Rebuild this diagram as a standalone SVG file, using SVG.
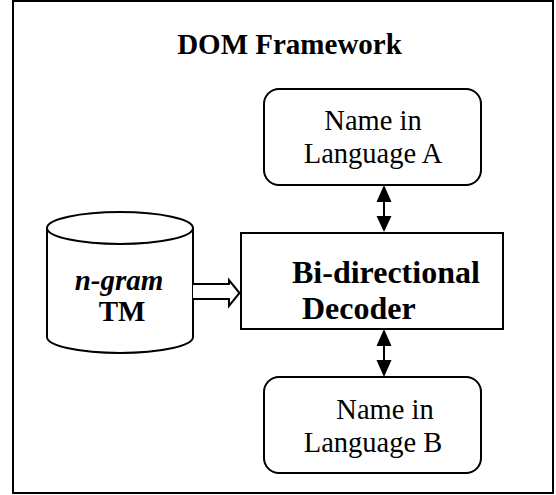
<svg xmlns="http://www.w3.org/2000/svg" width="556" height="495" viewBox="0 0 556 495">
<defs>
<style>
.shape{fill:#fff;stroke:#000;stroke-width:2}
.t{font-family:"Liberation Serif","Times New Roman",serif;fill:#000}
.b{font-weight:bold}
.line{stroke:#000;stroke-width:2;fill:none}
.head{fill:#000;stroke:none}
</style>
</defs>
<rect width="556" height="495" fill="#fff"/>
<g id="frame">
<rect class="shape" x="13" y="1" width="540" height="492"/>
<text class="t b" x="289.5" y="54" font-size="29" text-anchor="middle">DOM Framework</text>
</g>
<g id="nameA">
<rect class="shape" x="264" y="89" width="217" height="96" rx="15" ry="15"/>
<text class="t" x="373" y="130" font-size="28.5" text-anchor="middle">Name in</text>
<text class="t" x="373" y="163" font-size="28.5" text-anchor="middle">Language A</text>
</g>
<g id="decoder">
<rect class="shape" x="241" y="233" width="262" height="96"/>
<text class="t b" x="292" y="283" font-size="32">Bi-directional</text>
<text class="t b" x="302" y="319" font-size="32">Decoder</text>
</g>
<g id="nameB">
<rect class="shape" x="264" y="377" width="217" height="96" rx="15" ry="15"/>
<text class="t" x="385" y="419" font-size="28.5" text-anchor="middle">Name in</text>
<text class="t" x="373" y="452" font-size="28.5" text-anchor="middle">Language B</text>
</g>
<g id="ngramTM">
<path class="shape" d="M47,228 L47,337 A73,16 0 0 0 193,337 L193,228 A73,16 0 0 0 47,228 Z"/>
<path class="line" d="M47,228 A73,16 0 0 0 193,228"/>
<text class="t b" x="119" y="290" font-size="29" font-style="italic" text-anchor="middle">n-gram</text>
<text class="t b" x="122" y="321" font-size="29" text-anchor="middle">TM</text>
</g>
<g id="connectors">
<path class="shape" d="M193,284 L229,284 L229,280 L239.5,293 L229,306 L229,299 L193,299"/>
<line class="line" x1="384" y1="198" x2="384" y2="220"/>
<polygon class="head" points="384,185 376.5,202 391.5,202"/>
<polygon class="head" points="384,232 376.5,216 391.5,216"/>
<line class="line" x1="384" y1="342" x2="384" y2="364"/>
<polygon class="head" points="384,329 376.5,346 391.5,346"/>
<polygon class="head" points="384,377 376.5,360 391.5,360"/>
</g>
</svg>
